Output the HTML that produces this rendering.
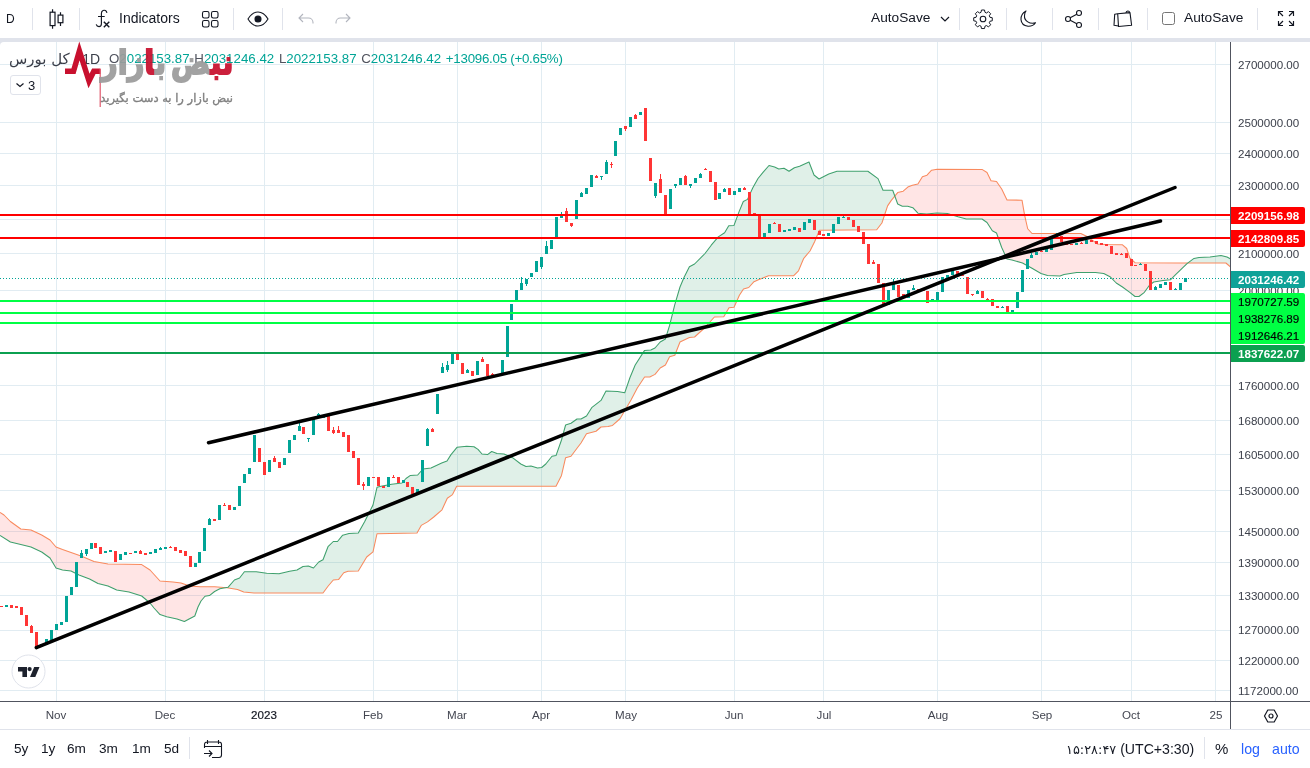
<!DOCTYPE html><html lang="fa"><head><meta charset="utf-8"><title>TradingView Chart</title><style>
*{margin:0;padding:0;box-sizing:border-box}
html,body{width:1310px;height:768px;overflow:hidden;background:#e0e3eb;font-family:"Liberation Sans","DejaVu Sans",sans-serif;color:#131722}
#top{position:absolute;left:0;top:0;width:1310px;height:38px;background:#fff}
#main{position:absolute;left:0;top:42px;width:1310px;height:726px;background:#fff;border-top-left-radius:4px}
.t{position:absolute;white-space:nowrap;line-height:1}
.t,.pl,.tl,.tag,.bb{will-change:transform}
.sep{position:absolute;top:8px;width:1px;height:22px;background:#e0e3eb}
.ic{position:absolute}
.pl{position:absolute;left:1238px;font-size:11.6px;line-height:14px;height:14px;color:#3c404b}
.tl{position:absolute;top:708px;font-size:11.6px;line-height:14px;color:#434651;transform:translateX(-50%)}
.tag{position:absolute;left:1231px;width:74px;height:17px;font-size:11.6px;font-weight:bold;line-height:17px;padding-left:7px;border-radius:0 2px 2px 0;color:#fff}
.bb{position:absolute;top:740.8px;font-size:13.6px;line-height:16px;color:#131722}
</style></head><body>
<div id="top"></div><div id="main"></div>
<svg id="chart" width="1310" height="768" viewBox="0 0 1310 768" style="position:absolute;left:0;top:0">
<defs><clipPath id="cp"><rect x="0" y="42" width="1230" height="659"/></clipPath></defs>
<g shape-rendering="crispEdges" stroke="#e1ecf2" stroke-width="1">
<line x1="56.5" y1="42" x2="56.5" y2="701"/>
<line x1="165.5" y1="42" x2="165.5" y2="701"/>
<line x1="264.5" y1="42" x2="264.5" y2="701"/>
<line x1="373.5" y1="42" x2="373.5" y2="701"/>
<line x1="457.5" y1="42" x2="457.5" y2="701"/>
<line x1="541.5" y1="42" x2="541.5" y2="701"/>
<line x1="625.5" y1="42" x2="625.5" y2="701"/>
<line x1="734.5" y1="42" x2="734.5" y2="701"/>
<line x1="823.5" y1="42" x2="823.5" y2="701"/>
<line x1="937.5" y1="42" x2="937.5" y2="701"/>
<line x1="1041.5" y1="42" x2="1041.5" y2="701"/>
<line x1="1131.5" y1="42" x2="1131.5" y2="701"/>
<line x1="1215.5" y1="42" x2="1215.5" y2="701"/>
<line x1="0" y1="64.5" x2="1230" y2="64.5"/>
<line x1="0" y1="122.5" x2="1230" y2="122.5"/>
<line x1="0" y1="153.5" x2="1230" y2="153.5"/>
<line x1="0" y1="185.5" x2="1230" y2="185.5"/>
<line x1="0" y1="219.5" x2="1230" y2="219.5"/>
<line x1="0" y1="253.5" x2="1230" y2="253.5"/>
<line x1="0" y1="290.5" x2="1230" y2="290.5"/>
<line x1="0" y1="385.5" x2="1230" y2="385.5"/>
<line x1="0" y1="420.5" x2="1230" y2="420.5"/>
<line x1="0" y1="454.5" x2="1230" y2="454.5"/>
<line x1="0" y1="490.5" x2="1230" y2="490.5"/>
<line x1="0" y1="531.5" x2="1230" y2="531.5"/>
<line x1="0" y1="562.5" x2="1230" y2="562.5"/>
<line x1="0" y1="595.5" x2="1230" y2="595.5"/>
<line x1="0" y1="630.5" x2="1230" y2="630.5"/>
<line x1="0" y1="660.5" x2="1230" y2="660.5"/>
<line x1="0" y1="690.5" x2="1230" y2="690.5"/>
</g>
<g clip-path="url(#cp)">
<clipPath id="ao"><polygon points="0,512.5 4,515 10.4,521.5 20.8,529 31,530 41.7,535 50,540 56,547 62.5,549.6 81,556 94,561.5 108,564 141.7,564.6 150,570 160,581 173,582 181,583 189.6,586 200,586.7 214.6,586.7 227,587.7 237.5,589.4 243.75,592 254,593 323,593 328,586.25 333.3,580 338.5,579.6 343.75,572.7 348,571.25 358.3,571 366.7,557 373,551.9 377,533.75 417,533 421.25,525.4 427.5,521.9 433.75,517 442,509.8 447.3,498.3 452.5,494.6 456.7,486.25 556,486.25 561.5,475.4 565.6,457.7 571,456.25 577,448.3 581,443 586.5,433.75 596,431.25 601,427 608,426.5 612.5,425.4 620,418.75 631,400 637.3,388 644.6,377 649.8,377 655,374.4 660.2,368 665.4,365 669.6,356.7 674.8,355.2 680,342 689.4,337.5 694.6,337 705,327.5 714.4,317 723.75,316.7 729,307.7 734,307.3 739.4,295.2 743.5,289 748.75,287.5 754,281.7 759,279.6 768.5,275.8 793.5,275.8 798.5,270.8 803.75,258.3 810,251 814.6,241.7 819.4,230.2 876.7,229.8 881.9,223 884.9,214 887.6,205.9 891.3,200.4 895,195.8 897.7,192.6 903.2,191.2 907.8,187.1 912.4,185.3 917.9,184.1 922.4,176.7 927,175.2 931.6,170.2 937.1,169.2 982,169.4 987,172.5 991,180.8 996.5,181.5 1001.7,189 1007,200 1022,200.2 1024.6,215.2 1027.7,228.75 1032,233.5 1080.8,233.5 1086,236 1092.3,240.2 1097.5,244 1105.8,244.4 1122.5,244.8 1126.7,248.5 1129.8,258 1135,262.7 1180,263 1225.9,263 1230.5,267 1231,0 0,0"/></clipPath>
<clipPath id="ag"><polygon points="0,535.4 10.4,542 20.8,544.6 31,547 41.7,552 50,558 56,568 62.5,570 71,571 79,575 89.6,579 98,583.5 108,586 116.7,590 129,592 141.7,596 150,603 154,608 160,614.6 166.7,616.7 177,619 184.4,621.5 194.8,616 198,607 201,601 205,596.25 209.4,595.6 214.6,591.5 219.8,588.75 228,587.3 234.4,580 239.6,578 244.4,571.7 256.25,571.7 266.7,573.3 279,573.75 289.6,571.25 297,570 303,566.5 308.3,566 313.5,568 318.75,562 323,559.8 328,546.7 333.3,541.5 337.5,541.5 342.7,535.2 349,533.5 358.3,533 364.6,521.7 373,505 377,487.3 381,486.25 391.7,484.2 402,483 406,478.5 410.4,475.4 417.7,475 423,469 431,468 441.7,463 447,461 451,454.6 457,447.3 466.7,446.25 474,446.7 478,449.4 482,454 487.5,454.6 491.7,451.5 497,453.5 504,454 512.5,457.7 520.8,464 526,466.5 531,466 537.5,468 541.7,467.5 545.8,464 552,456.25 556,455.6 561.5,440 565.6,425 571,423.3 577,419 581,419 586.5,416 591.7,407.7 601,400.4 606,391 617.5,391.5 624.8,392.7 630,377.5 635.2,365 644.6,350.4 650.8,350 655,348 660.2,342 665.4,339 669.6,325.4 674.8,304.6 680,287 684,277.5 689.4,266.7 694.6,264 705,253.5 711.25,245.2 718.3,236.9 724.6,232.7 728.75,225.8 734,225.4 739,211.9 743.3,201.5 747.5,199.4 752.7,188 758,178.5 763,172.3 769,165.5 774.6,167 778.75,169 784,168.3 789,171.25 794.4,167.7 799.6,166.25 809,162 814,175 819,179 828.75,174 837,171.25 867.9,171.25 878,178.6 883,190.3 892.7,190.3 897.7,204 902.3,206.3 907.8,206.3 912.8,207.7 917.9,213.2 926.7,214 937,213 947.5,213.5 958,216.7 966.25,219 982,219 987,222.5 992.3,230.8 996.5,233 1001.7,247.5 1007,259 1012,260 1022.5,263 1032,268.3 1041,273.5 1047.5,275.6 1060,276 1064,274.6 1076.7,272.5 1095.4,272.5 1103.75,273.5 1110,276.7 1116.25,283 1122.5,287 1129.8,292.3 1135,296.5 1139,296.5 1144.4,292.3 1149.6,285 1153.75,282 1163,280.4 1170.4,279.8 1175.6,274.6 1180,270.4 1187,263.7 1194,258.4 1199,257.4 1210,257 1221,255.5 1227,257 1230.5,259 1231,0 0,0"/></clipPath>
<polygon clip-path="url(#ao)" fill="#4aa775" fill-opacity=".17" points="0,535.4 10.4,542 20.8,544.6 31,547 41.7,552 50,558 56,568 62.5,570 71,571 79,575 89.6,579 98,583.5 108,586 116.7,590 129,592 141.7,596 150,603 154,608 160,614.6 166.7,616.7 177,619 184.4,621.5 194.8,616 198,607 201,601 205,596.25 209.4,595.6 214.6,591.5 219.8,588.75 228,587.3 234.4,580 239.6,578 244.4,571.7 256.25,571.7 266.7,573.3 279,573.75 289.6,571.25 297,570 303,566.5 308.3,566 313.5,568 318.75,562 323,559.8 328,546.7 333.3,541.5 337.5,541.5 342.7,535.2 349,533.5 358.3,533 364.6,521.7 373,505 377,487.3 381,486.25 391.7,484.2 402,483 406,478.5 410.4,475.4 417.7,475 423,469 431,468 441.7,463 447,461 451,454.6 457,447.3 466.7,446.25 474,446.7 478,449.4 482,454 487.5,454.6 491.7,451.5 497,453.5 504,454 512.5,457.7 520.8,464 526,466.5 531,466 537.5,468 541.7,467.5 545.8,464 552,456.25 556,455.6 561.5,440 565.6,425 571,423.3 577,419 581,419 586.5,416 591.7,407.7 601,400.4 606,391 617.5,391.5 624.8,392.7 630,377.5 635.2,365 644.6,350.4 650.8,350 655,348 660.2,342 665.4,339 669.6,325.4 674.8,304.6 680,287 684,277.5 689.4,266.7 694.6,264 705,253.5 711.25,245.2 718.3,236.9 724.6,232.7 728.75,225.8 734,225.4 739,211.9 743.3,201.5 747.5,199.4 752.7,188 758,178.5 763,172.3 769,165.5 774.6,167 778.75,169 784,168.3 789,171.25 794.4,167.7 799.6,166.25 809,162 814,175 819,179 828.75,174 837,171.25 867.9,171.25 878,178.6 883,190.3 892.7,190.3 897.7,204 902.3,206.3 907.8,206.3 912.8,207.7 917.9,213.2 926.7,214 937,213 947.5,213.5 958,216.7 966.25,219 982,219 987,222.5 992.3,230.8 996.5,233 1001.7,247.5 1007,259 1012,260 1022.5,263 1032,268.3 1041,273.5 1047.5,275.6 1060,276 1064,274.6 1076.7,272.5 1095.4,272.5 1103.75,273.5 1110,276.7 1116.25,283 1122.5,287 1129.8,292.3 1135,296.5 1139,296.5 1144.4,292.3 1149.6,285 1153.75,282 1163,280.4 1170.4,279.8 1175.6,274.6 1180,270.4 1187,263.7 1194,258.4 1199,257.4 1210,257 1221,255.5 1227,257 1230.5,259 1231,768 0,768"/>
<polygon clip-path="url(#ag)" fill="#ff5252" fill-opacity=".15" points="0,512.5 4,515 10.4,521.5 20.8,529 31,530 41.7,535 50,540 56,547 62.5,549.6 81,556 94,561.5 108,564 141.7,564.6 150,570 160,581 173,582 181,583 189.6,586 200,586.7 214.6,586.7 227,587.7 237.5,589.4 243.75,592 254,593 323,593 328,586.25 333.3,580 338.5,579.6 343.75,572.7 348,571.25 358.3,571 366.7,557 373,551.9 377,533.75 417,533 421.25,525.4 427.5,521.9 433.75,517 442,509.8 447.3,498.3 452.5,494.6 456.7,486.25 556,486.25 561.5,475.4 565.6,457.7 571,456.25 577,448.3 581,443 586.5,433.75 596,431.25 601,427 608,426.5 612.5,425.4 620,418.75 631,400 637.3,388 644.6,377 649.8,377 655,374.4 660.2,368 665.4,365 669.6,356.7 674.8,355.2 680,342 689.4,337.5 694.6,337 705,327.5 714.4,317 723.75,316.7 729,307.7 734,307.3 739.4,295.2 743.5,289 748.75,287.5 754,281.7 759,279.6 768.5,275.8 793.5,275.8 798.5,270.8 803.75,258.3 810,251 814.6,241.7 819.4,230.2 876.7,229.8 881.9,223 884.9,214 887.6,205.9 891.3,200.4 895,195.8 897.7,192.6 903.2,191.2 907.8,187.1 912.4,185.3 917.9,184.1 922.4,176.7 927,175.2 931.6,170.2 937.1,169.2 982,169.4 987,172.5 991,180.8 996.5,181.5 1001.7,189 1007,200 1022,200.2 1024.6,215.2 1027.7,228.75 1032,233.5 1080.8,233.5 1086,236 1092.3,240.2 1097.5,244 1105.8,244.4 1122.5,244.8 1126.7,248.5 1129.8,258 1135,262.7 1180,263 1225.9,263 1230.5,267 1231,768 0,768"/>
<polyline fill="none" stroke="#f98a5e" stroke-width="1.05" stroke-linejoin="round" points="0,512.5 4,515 10.4,521.5 20.8,529 31,530 41.7,535 50,540 56,547 62.5,549.6 81,556 94,561.5 108,564 141.7,564.6 150,570 160,581 173,582 181,583 189.6,586 200,586.7 214.6,586.7 227,587.7 237.5,589.4 243.75,592 254,593 323,593 328,586.25 333.3,580 338.5,579.6 343.75,572.7 348,571.25 358.3,571 366.7,557 373,551.9 377,533.75 417,533 421.25,525.4 427.5,521.9 433.75,517 442,509.8 447.3,498.3 452.5,494.6 456.7,486.25 556,486.25 561.5,475.4 565.6,457.7 571,456.25 577,448.3 581,443 586.5,433.75 596,431.25 601,427 608,426.5 612.5,425.4 620,418.75 631,400 637.3,388 644.6,377 649.8,377 655,374.4 660.2,368 665.4,365 669.6,356.7 674.8,355.2 680,342 689.4,337.5 694.6,337 705,327.5 714.4,317 723.75,316.7 729,307.7 734,307.3 739.4,295.2 743.5,289 748.75,287.5 754,281.7 759,279.6 768.5,275.8 793.5,275.8 798.5,270.8 803.75,258.3 810,251 814.6,241.7 819.4,230.2 876.7,229.8 881.9,223 884.9,214 887.6,205.9 891.3,200.4 895,195.8 897.7,192.6 903.2,191.2 907.8,187.1 912.4,185.3 917.9,184.1 922.4,176.7 927,175.2 931.6,170.2 937.1,169.2 982,169.4 987,172.5 991,180.8 996.5,181.5 1001.7,189 1007,200 1022,200.2 1024.6,215.2 1027.7,228.75 1032,233.5 1080.8,233.5 1086,236 1092.3,240.2 1097.5,244 1105.8,244.4 1122.5,244.8 1126.7,248.5 1129.8,258 1135,262.7 1180,263 1225.9,263 1230.5,267"/>
<polyline fill="none" stroke="#3fa06d" stroke-width="1.05" stroke-linejoin="round" points="0,535.4 10.4,542 20.8,544.6 31,547 41.7,552 50,558 56,568 62.5,570 71,571 79,575 89.6,579 98,583.5 108,586 116.7,590 129,592 141.7,596 150,603 154,608 160,614.6 166.7,616.7 177,619 184.4,621.5 194.8,616 198,607 201,601 205,596.25 209.4,595.6 214.6,591.5 219.8,588.75 228,587.3 234.4,580 239.6,578 244.4,571.7 256.25,571.7 266.7,573.3 279,573.75 289.6,571.25 297,570 303,566.5 308.3,566 313.5,568 318.75,562 323,559.8 328,546.7 333.3,541.5 337.5,541.5 342.7,535.2 349,533.5 358.3,533 364.6,521.7 373,505 377,487.3 381,486.25 391.7,484.2 402,483 406,478.5 410.4,475.4 417.7,475 423,469 431,468 441.7,463 447,461 451,454.6 457,447.3 466.7,446.25 474,446.7 478,449.4 482,454 487.5,454.6 491.7,451.5 497,453.5 504,454 512.5,457.7 520.8,464 526,466.5 531,466 537.5,468 541.7,467.5 545.8,464 552,456.25 556,455.6 561.5,440 565.6,425 571,423.3 577,419 581,419 586.5,416 591.7,407.7 601,400.4 606,391 617.5,391.5 624.8,392.7 630,377.5 635.2,365 644.6,350.4 650.8,350 655,348 660.2,342 665.4,339 669.6,325.4 674.8,304.6 680,287 684,277.5 689.4,266.7 694.6,264 705,253.5 711.25,245.2 718.3,236.9 724.6,232.7 728.75,225.8 734,225.4 739,211.9 743.3,201.5 747.5,199.4 752.7,188 758,178.5 763,172.3 769,165.5 774.6,167 778.75,169 784,168.3 789,171.25 794.4,167.7 799.6,166.25 809,162 814,175 819,179 828.75,174 837,171.25 867.9,171.25 878,178.6 883,190.3 892.7,190.3 897.7,204 902.3,206.3 907.8,206.3 912.8,207.7 917.9,213.2 926.7,214 937,213 947.5,213.5 958,216.7 966.25,219 982,219 987,222.5 992.3,230.8 996.5,233 1001.7,247.5 1007,259 1012,260 1022.5,263 1032,268.3 1041,273.5 1047.5,275.6 1060,276 1064,274.6 1076.7,272.5 1095.4,272.5 1103.75,273.5 1110,276.7 1116.25,283 1122.5,287 1129.8,292.3 1135,296.5 1139,296.5 1144.4,292.3 1149.6,285 1153.75,282 1163,280.4 1170.4,279.8 1175.6,274.6 1180,270.4 1187,263.7 1194,258.4 1199,257.4 1210,257 1221,255.5 1227,257 1230.5,259"/>
<g shape-rendering="crispEdges">
<rect x="0" y="606" width="3" height="1" fill="#ff3535"/>
<rect x="5" y="605" width="3" height="2" fill="#00a496"/>
<rect x="10" y="605" width="3" height="3" fill="#ff3535"/>
<rect x="15" y="606" width="3" height="2" fill="#ff3535"/>
<rect x="20" y="607" width="3" height="8" fill="#ff3535"/>
<rect x="25" y="615" width="3" height="11" fill="#ff3535"/>
<rect x="31" y="625" width="1" height="8" fill="#ff3535"/>
<rect x="30" y="626" width="3" height="7" fill="#ff3535"/>
<rect x="35" y="632" width="3" height="16" fill="#ff3535"/>
<rect x="40" y="644" width="3" height="1" fill="#00a496"/>
<rect x="45" y="639" width="3" height="6" fill="#00a496"/>
<rect x="50" y="630" width="3" height="10" fill="#00a496"/>
<rect x="55" y="624" width="3" height="6" fill="#00a496"/>
<rect x="60" y="622" width="3" height="3" fill="#00a496"/>
<rect x="65" y="596" width="3" height="26" fill="#00a496"/>
<rect x="70" y="587" width="3" height="8" fill="#00a496"/>
<rect x="75" y="562" width="3" height="25" fill="#00a496"/>
<rect x="81" y="550" width="1" height="8" fill="#00a496"/>
<rect x="80" y="553" width="3" height="5" fill="#00a496"/>
<rect x="86" y="549" width="1" height="7" fill="#00a496"/>
<rect x="85" y="549" width="3" height="5" fill="#00a496"/>
<rect x="90" y="543" width="3" height="6" fill="#00a496"/>
<rect x="94" y="543" width="3" height="5" fill="#ff3535"/>
<rect x="99" y="547" width="3" height="7" fill="#ff3535"/>
<rect x="104" y="551" width="3" height="2" fill="#00a496"/>
<rect x="109" y="550" width="3" height="2" fill="#00a496"/>
<rect x="114" y="551" width="3" height="11" fill="#ff3535"/>
<rect x="119" y="554" width="3" height="6" fill="#00a496"/>
<rect x="124" y="552" width="3" height="3" fill="#00a496"/>
<rect x="129" y="553" width="3" height="1" fill="#ff3535"/>
<rect x="134" y="551" width="3" height="2" fill="#00a496"/>
<rect x="140" y="550" width="1" height="4" fill="#ff3535"/>
<rect x="139" y="551" width="3" height="3" fill="#ff3535"/>
<rect x="144" y="553" width="3" height="2" fill="#ff3535"/>
<rect x="149" y="552" width="3" height="2" fill="#00a496"/>
<rect x="154" y="549" width="3" height="4" fill="#00a496"/>
<rect x="160" y="547" width="1" height="3" fill="#00a496"/>
<rect x="159" y="548" width="3" height="2" fill="#00a496"/>
<rect x="164" y="547" width="3" height="2" fill="#00a496"/>
<rect x="170" y="546" width="1" height="2" fill="#ff3535"/>
<rect x="169" y="547" width="3" height="1" fill="#ff3535"/>
<rect x="174" y="547" width="3" height="4" fill="#ff3535"/>
<rect x="179" y="550" width="3" height="3" fill="#ff3535"/>
<rect x="184" y="551" width="3" height="5" fill="#ff3535"/>
<rect x="189" y="556" width="3" height="11" fill="#ff3535"/>
<rect x="194" y="563" width="3" height="4" fill="#00a496"/>
<rect x="198" y="552" width="3" height="11" fill="#00a496"/>
<rect x="203" y="528" width="3" height="23" fill="#00a496"/>
<rect x="209" y="518" width="1" height="7" fill="#00a496"/>
<rect x="208" y="519" width="3" height="6" fill="#00a496"/>
<rect x="213" y="519" width="3" height="2" fill="#ff3535"/>
<rect x="218" y="505" width="3" height="15" fill="#00a496"/>
<rect x="224" y="503" width="1" height="3" fill="#ff3535"/>
<rect x="223" y="505" width="3" height="1" fill="#ff3535"/>
<rect x="228" y="505" width="3" height="5" fill="#ff3535"/>
<rect x="233" y="507" width="3" height="3" fill="#00a496"/>
<rect x="238" y="486" width="3" height="20" fill="#00a496"/>
<rect x="243" y="474" width="3" height="9" fill="#00a496"/>
<rect x="248" y="468" width="3" height="6" fill="#00a496"/>
<rect x="253" y="435" width="3" height="27" fill="#00a496"/>
<rect x="258" y="448" width="3" height="14" fill="#ff3535"/>
<rect x="263" y="462" width="3" height="13" fill="#ff3535"/>
<rect x="268" y="460" width="3" height="12" fill="#00a496"/>
<rect x="274" y="456" width="1" height="6" fill="#ff3535"/>
<rect x="273" y="458" width="3" height="4" fill="#ff3535"/>
<rect x="278" y="462" width="3" height="6" fill="#ff3535"/>
<rect x="283" y="458" width="3" height="7" fill="#00a496"/>
<rect x="288" y="440" width="3" height="13" fill="#00a496"/>
<rect x="293" y="435" width="3" height="5" fill="#00a496"/>
<rect x="299" y="422" width="1" height="9" fill="#00a496"/>
<rect x="298" y="426" width="3" height="5" fill="#00a496"/>
<rect x="302" y="427" width="3" height="7" fill="#ff3535"/>
<rect x="308" y="438" width="1" height="4" fill="#00a496"/>
<rect x="307" y="438" width="3" height="1" fill="#00a496"/>
<rect x="312" y="419" width="3" height="16" fill="#00a496"/>
<rect x="318" y="413" width="1" height="3" fill="#00a496"/>
<rect x="317" y="414" width="3" height="2" fill="#00a496"/>
<rect x="322" y="417" width="3" height="1" fill="#00a496"/>
<rect x="327" y="416" width="3" height="15" fill="#ff3535"/>
<rect x="333" y="427" width="1" height="7" fill="#ff3535"/>
<rect x="332" y="430" width="3" height="3" fill="#ff3535"/>
<rect x="338" y="426" width="1" height="7" fill="#ff3535"/>
<rect x="337" y="430" width="3" height="3" fill="#ff3535"/>
<rect x="342" y="432" width="3" height="5" fill="#ff3535"/>
<rect x="347" y="435" width="3" height="17" fill="#ff3535"/>
<rect x="352" y="451" width="3" height="7" fill="#ff3535"/>
<rect x="357" y="458" width="3" height="27" fill="#ff3535"/>
<rect x="363" y="482" width="1" height="8" fill="#ff3535"/>
<rect x="362" y="484" width="3" height="2" fill="#ff3535"/>
<rect x="367" y="477" width="3" height="9" fill="#00a496"/>
<rect x="372" y="477" width="3" height="1" fill="#ff3535"/>
<rect x="377" y="477" width="3" height="9" fill="#ff3535"/>
<rect x="382" y="486" width="3" height="2" fill="#ff3535"/>
<rect x="387" y="477" width="3" height="10" fill="#00a496"/>
<rect x="393" y="475" width="1" height="3" fill="#ff3535"/>
<rect x="392" y="477" width="3" height="1" fill="#ff3535"/>
<rect x="397" y="477" width="3" height="6" fill="#ff3535"/>
<rect x="402" y="480" width="3" height="3" fill="#00a496"/>
<rect x="406" y="482" width="3" height="5" fill="#ff3535"/>
<rect x="411" y="487" width="3" height="7" fill="#ff3535"/>
<rect x="416" y="489" width="3" height="4" fill="#00a496"/>
<rect x="421" y="460" width="3" height="22" fill="#00a496"/>
<rect x="427" y="428" width="1" height="18" fill="#00a496"/>
<rect x="426" y="429" width="3" height="17" fill="#00a496"/>
<rect x="432" y="428" width="1" height="4" fill="#ff3535"/>
<rect x="431" y="429" width="3" height="3" fill="#ff3535"/>
<rect x="436" y="394" width="3" height="20" fill="#00a496"/>
<rect x="442" y="363" width="1" height="10" fill="#00a496"/>
<rect x="441" y="367" width="3" height="6" fill="#00a496"/>
<rect x="447" y="361" width="1" height="11" fill="#00a496"/>
<rect x="446" y="365" width="3" height="5" fill="#00a496"/>
<rect x="451" y="354" width="3" height="10" fill="#00a496"/>
<rect x="456" y="354" width="3" height="6" fill="#ff3535"/>
<rect x="461" y="363" width="3" height="11" fill="#ff3535"/>
<rect x="467" y="369" width="1" height="4" fill="#00a496"/>
<rect x="466" y="370" width="3" height="3" fill="#00a496"/>
<rect x="471" y="371" width="3" height="5" fill="#ff3535"/>
<rect x="476" y="361" width="3" height="14" fill="#00a496"/>
<rect x="482" y="357" width="1" height="5" fill="#ff3535"/>
<rect x="481" y="359" width="3" height="3" fill="#ff3535"/>
<rect x="486" y="364" width="3" height="12" fill="#ff3535"/>
<rect x="492" y="373" width="1" height="2" fill="#ff3535"/>
<rect x="491" y="374" width="3" height="1" fill="#ff3535"/>
<rect x="496" y="374" width="3" height="1" fill="#00a496"/>
<rect x="501" y="360" width="3" height="13" fill="#00a496"/>
<rect x="506" y="326" width="3" height="31" fill="#00a496"/>
<rect x="510" y="304" width="3" height="16" fill="#00a496"/>
<rect x="515" y="290" width="3" height="10" fill="#00a496"/>
<rect x="521" y="277" width="1" height="13" fill="#00a496"/>
<rect x="520" y="283" width="3" height="7" fill="#00a496"/>
<rect x="526" y="279" width="1" height="7" fill="#00a496"/>
<rect x="525" y="279" width="3" height="5" fill="#00a496"/>
<rect x="530" y="273" width="3" height="4" fill="#00a496"/>
<rect x="535" y="261" width="3" height="11" fill="#00a496"/>
<rect x="541" y="257" width="1" height="12" fill="#00a496"/>
<rect x="540" y="257" width="3" height="10" fill="#00a496"/>
<rect x="546" y="241" width="1" height="13" fill="#00a496"/>
<rect x="545" y="246" width="3" height="8" fill="#00a496"/>
<rect x="550" y="240" width="3" height="9" fill="#00a496"/>
<rect x="555" y="217" width="3" height="20" fill="#00a496"/>
<rect x="561" y="212" width="1" height="6" fill="#00a496"/>
<rect x="560" y="215" width="3" height="3" fill="#00a496"/>
<rect x="566" y="208" width="1" height="14" fill="#ff3535"/>
<rect x="565" y="211" width="3" height="11" fill="#ff3535"/>
<rect x="571" y="223" width="1" height="4" fill="#ff3535"/>
<rect x="570" y="223" width="3" height="3" fill="#ff3535"/>
<rect x="575" y="200" width="3" height="19" fill="#00a496"/>
<rect x="581" y="192" width="1" height="5" fill="#00a496"/>
<rect x="580" y="193" width="3" height="4" fill="#00a496"/>
<rect x="585" y="188" width="3" height="6" fill="#00a496"/>
<rect x="590" y="175" width="3" height="12" fill="#00a496"/>
<rect x="596" y="175" width="1" height="3" fill="#ff3535"/>
<rect x="595" y="176" width="3" height="2" fill="#ff3535"/>
<rect x="601" y="176" width="1" height="4" fill="#00a496"/>
<rect x="600" y="176" width="3" height="1" fill="#00a496"/>
<rect x="606" y="160" width="1" height="14" fill="#00a496"/>
<rect x="605" y="162" width="3" height="12" fill="#00a496"/>
<rect x="611" y="162" width="1" height="6" fill="#ff3535"/>
<rect x="610" y="164" width="3" height="1" fill="#ff3535"/>
<rect x="614" y="141" width="3" height="15" fill="#00a496"/>
<rect x="619" y="128" width="3" height="7" fill="#00a496"/>
<rect x="625" y="126" width="1" height="5" fill="#ff3535"/>
<rect x="624" y="126" width="3" height="3" fill="#ff3535"/>
<rect x="629" y="117" width="3" height="10" fill="#00a496"/>
<rect x="635" y="114" width="1" height="5" fill="#ff3535"/>
<rect x="634" y="115" width="3" height="4" fill="#ff3535"/>
<rect x="639" y="112" width="3" height="3" fill="#00a496"/>
<rect x="644" y="108" width="3" height="33" fill="#ff3535"/>
<rect x="649" y="158" width="3" height="23" fill="#ff3535"/>
<rect x="655" y="183" width="1" height="15" fill="#00a496"/>
<rect x="654" y="183" width="3" height="13" fill="#00a496"/>
<rect x="660" y="174" width="1" height="19" fill="#ff3535"/>
<rect x="659" y="179" width="3" height="14" fill="#ff3535"/>
<rect x="664" y="195" width="3" height="20" fill="#ff3535"/>
<rect x="669" y="189" width="3" height="20" fill="#00a496"/>
<rect x="675" y="184" width="1" height="4" fill="#00a496"/>
<rect x="674" y="184" width="3" height="2" fill="#00a496"/>
<rect x="679" y="178" width="3" height="7" fill="#00a496"/>
<rect x="685" y="175" width="1" height="10" fill="#ff3535"/>
<rect x="684" y="176" width="3" height="9" fill="#ff3535"/>
<rect x="690" y="184" width="1" height="4" fill="#00a496"/>
<rect x="689" y="184" width="3" height="2" fill="#00a496"/>
<rect x="694" y="178" width="3" height="5" fill="#00a496"/>
<rect x="700" y="173" width="1" height="5" fill="#00a496"/>
<rect x="699" y="174" width="3" height="4" fill="#00a496"/>
<rect x="705" y="168" width="1" height="2" fill="#ff3535"/>
<rect x="704" y="169" width="3" height="1" fill="#ff3535"/>
<rect x="709" y="171" width="3" height="11" fill="#ff3535"/>
<rect x="714" y="182" width="3" height="18" fill="#ff3535"/>
<rect x="718" y="193" width="3" height="6" fill="#00a496"/>
<rect x="724" y="188" width="1" height="4" fill="#00a496"/>
<rect x="723" y="189" width="3" height="3" fill="#00a496"/>
<rect x="728" y="188" width="3" height="7" fill="#ff3535"/>
<rect x="733" y="191" width="3" height="4" fill="#00a496"/>
<rect x="738" y="188" width="3" height="4" fill="#00a496"/>
<rect x="744" y="187" width="1" height="3" fill="#ff3535"/>
<rect x="743" y="188" width="3" height="2" fill="#ff3535"/>
<rect x="748" y="192" width="3" height="23" fill="#ff3535"/>
<rect x="753" y="213" width="3" height="2" fill="#ff3535"/>
<rect x="758" y="216" width="3" height="21" fill="#ff3535"/>
<rect x="763" y="233" width="3" height="4" fill="#00a496"/>
<rect x="768" y="224" width="3" height="9" fill="#00a496"/>
<rect x="774" y="222" width="1" height="2" fill="#ff3535"/>
<rect x="773" y="223" width="3" height="1" fill="#ff3535"/>
<rect x="778" y="224" width="3" height="8" fill="#ff3535"/>
<rect x="784" y="230" width="1" height="2" fill="#00a496"/>
<rect x="783" y="230" width="3" height="2" fill="#00a496"/>
<rect x="788" y="229" width="3" height="2" fill="#00a496"/>
<rect x="793" y="227" width="3" height="3" fill="#00a496"/>
<rect x="798" y="228" width="3" height="4" fill="#ff3535"/>
<rect x="803" y="222" width="3" height="8" fill="#00a496"/>
<rect x="808" y="219" width="3" height="4" fill="#00a496"/>
<rect x="813" y="220" width="3" height="10" fill="#ff3535"/>
<rect x="818" y="231" width="3" height="4" fill="#ff3535"/>
<rect x="822" y="234" width="3" height="2" fill="#ff3535"/>
<rect x="827" y="233" width="3" height="3" fill="#00a496"/>
<rect x="832" y="224" width="3" height="9" fill="#00a496"/>
<rect x="837" y="217" width="3" height="7" fill="#00a496"/>
<rect x="843" y="216" width="1" height="2" fill="#00a496"/>
<rect x="842" y="217" width="3" height="1" fill="#00a496"/>
<rect x="847" y="217" width="3" height="3" fill="#ff3535"/>
<rect x="852" y="220" width="3" height="7" fill="#ff3535"/>
<rect x="857" y="226" width="3" height="6" fill="#ff3535"/>
<rect x="862" y="232" width="3" height="12" fill="#ff3535"/>
<rect x="867" y="244" width="3" height="20" fill="#ff3535"/>
<rect x="873" y="260" width="1" height="4" fill="#ff3535"/>
<rect x="872" y="262" width="3" height="2" fill="#ff3535"/>
<rect x="877" y="264" width="3" height="19" fill="#ff3535"/>
<rect x="882" y="283" width="3" height="21" fill="#ff3535"/>
<rect x="887" y="290" width="3" height="15" fill="#00a496"/>
<rect x="893" y="279" width="1" height="11" fill="#00a496"/>
<rect x="892" y="283" width="3" height="7" fill="#00a496"/>
<rect x="897" y="285" width="3" height="12" fill="#ff3535"/>
<rect x="902" y="294" width="3" height="3" fill="#ff3535"/>
<rect x="907" y="290" width="3" height="8" fill="#00a496"/>
<rect x="913" y="285" width="1" height="5" fill="#00a496"/>
<rect x="912" y="288" width="3" height="2" fill="#00a496"/>
<rect x="917" y="289" width="3" height="1" fill="#ff3535"/>
<rect x="922" y="290" width="3" height="1" fill="#ff3535"/>
<rect x="926" y="291" width="3" height="12" fill="#ff3535"/>
<rect x="931" y="299" width="3" height="1" fill="#00a496"/>
<rect x="936" y="292" width="3" height="8" fill="#00a496"/>
<rect x="941" y="277" width="3" height="15" fill="#00a496"/>
<rect x="946" y="275" width="3" height="3" fill="#00a496"/>
<rect x="951" y="271" width="3" height="4" fill="#00a496"/>
<rect x="956" y="271" width="3" height="3" fill="#ff3535"/>
<rect x="961" y="275" width="3" height="1" fill="#ff3535"/>
<rect x="966" y="277" width="3" height="17" fill="#ff3535"/>
<rect x="972" y="294" width="1" height="2" fill="#ff3535"/>
<rect x="971" y="294" width="3" height="1" fill="#ff3535"/>
<rect x="977" y="290" width="1" height="4" fill="#00a496"/>
<rect x="976" y="291" width="3" height="3" fill="#00a496"/>
<rect x="981" y="291" width="3" height="7" fill="#ff3535"/>
<rect x="987" y="298" width="1" height="2" fill="#ff3535"/>
<rect x="986" y="299" width="3" height="1" fill="#ff3535"/>
<rect x="991" y="299" width="3" height="7" fill="#ff3535"/>
<rect x="996" y="306" width="3" height="2" fill="#ff3535"/>
<rect x="1002" y="306" width="1" height="2" fill="#00a496"/>
<rect x="1001" y="307" width="3" height="1" fill="#00a496"/>
<rect x="1006" y="306" width="3" height="6" fill="#ff3535"/>
<rect x="1011" y="310" width="3" height="2" fill="#00a496"/>
<rect x="1016" y="292" width="3" height="16" fill="#00a496"/>
<rect x="1021" y="270" width="3" height="22" fill="#00a496"/>
<rect x="1026" y="259" width="3" height="10" fill="#00a496"/>
<rect x="1031" y="253" width="1" height="5" fill="#00a496"/>
<rect x="1030" y="255" width="3" height="3" fill="#00a496"/>
<rect x="1035" y="252" width="3" height="3" fill="#00a496"/>
<rect x="1041" y="250" width="1" height="2" fill="#ff3535"/>
<rect x="1040" y="251" width="3" height="1" fill="#ff3535"/>
<rect x="1045" y="249" width="3" height="3" fill="#00a496"/>
<rect x="1050" y="239" width="3" height="11" fill="#00a496"/>
<rect x="1056" y="233" width="1" height="6" fill="#00a496"/>
<rect x="1055" y="236" width="3" height="3" fill="#00a496"/>
<rect x="1060" y="236" width="3" height="6" fill="#ff3535"/>
<rect x="1065" y="244" width="3" height="1" fill="#ff3535"/>
<rect x="1070" y="244" width="3" height="1" fill="#ff3535"/>
<rect x="1075" y="243" width="3" height="2" fill="#00a496"/>
<rect x="1081" y="242" width="1" height="2" fill="#ff3535"/>
<rect x="1080" y="243" width="3" height="1" fill="#ff3535"/>
<rect x="1085" y="240" width="3" height="4" fill="#00a496"/>
<rect x="1090" y="240" width="3" height="2" fill="#ff3535"/>
<rect x="1095" y="241" width="3" height="3" fill="#ff3535"/>
<rect x="1100" y="243" width="3" height="2" fill="#ff3535"/>
<rect x="1105" y="244" width="3" height="2" fill="#ff3535"/>
<rect x="1110" y="246" width="3" height="8" fill="#ff3535"/>
<rect x="1115" y="253" width="3" height="2" fill="#ff3535"/>
<rect x="1121" y="253" width="1" height="2" fill="#ff3535"/>
<rect x="1120" y="254" width="3" height="1" fill="#ff3535"/>
<rect x="1125" y="253" width="3" height="5" fill="#ff3535"/>
<rect x="1130" y="259" width="3" height="7" fill="#ff3535"/>
<rect x="1134" y="265" width="3" height="1" fill="#ff3535"/>
<rect x="1140" y="263" width="1" height="2" fill="#00a496"/>
<rect x="1139" y="264" width="3" height="1" fill="#00a496"/>
<rect x="1144" y="264" width="3" height="7" fill="#ff3535"/>
<rect x="1149" y="271" width="3" height="19" fill="#ff3535"/>
<rect x="1155" y="286" width="1" height="4" fill="#00a496"/>
<rect x="1154" y="287" width="3" height="3" fill="#00a496"/>
<rect x="1159" y="284" width="3" height="4" fill="#00a496"/>
<rect x="1164" y="282" width="3" height="3" fill="#00a496"/>
<rect x="1169" y="282" width="3" height="8" fill="#ff3535"/>
<rect x="1175" y="288" width="1" height="2" fill="#00a496"/>
<rect x="1174" y="289" width="3" height="1" fill="#00a496"/>
<rect x="1179" y="283" width="3" height="7" fill="#00a496"/>
<rect x="1184" y="278" width="3" height="4" fill="#00a496"/>
</g>
<line x1="0" y1="278.5" x2="1230" y2="278.5" stroke="#00a496" stroke-width="1" stroke-dasharray="1 2" shape-rendering="crispEdges"/>
<g shape-rendering="crispEdges">
<rect x="0" y="214" width="1230" height="2" fill="#ff0000"/>
<rect x="0" y="237" width="1230" height="2" fill="#ff0000"/>
<rect x="0" y="300" width="1230" height="2" fill="#00ff44"/>
<rect x="0" y="312" width="1230" height="2" fill="#00ff44"/>
<rect x="0" y="322" width="1230" height="2" fill="#00ff44"/>
<rect x="0" y="352" width="1230" height="2" fill="#0ba050"/>
</g>
<line x1="36.3" y1="647.7" x2="1175" y2="187.5" stroke="#000" stroke-width="3.5" stroke-linecap="round"/>
<line x1="208.5" y1="442.7" x2="1160.5" y2="221" stroke="#000" stroke-width="3.5" stroke-linecap="round"/>
</g>
<g shape-rendering="crispEdges"><rect x="1230" y="42" width="1" height="688" fill="#50535e"/><rect x="0" y="701" width="1310" height="1" fill="#50535e"/><rect x="0" y="729" width="1310" height="1" fill="#e0e3eb"/></g>
<circle cx="28.5" cy="671.5" r="16.5" fill="#fff" stroke="#e0e3eb" stroke-width="1"/>
<g fill="#1e222d"><path d="M18 667h9v10h-4.6v-5.6H18z"/><circle cx="29.6" cy="669.1" r="2.1"/><path d="M34.2 667h5.3l-4.2 10h-5.3z"/></g>
</svg>
<div class="t" style="left:5.500px;top:12.500px;font-size:12px">D</div>
<div class="sep" style="left:32px"></div>
<div class="sep" style="left:79px"></div>
<div class="sep" style="left:233px"></div>
<div class="sep" style="left:282px"></div>
<div class="sep" style="left:959px"></div>
<div class="sep" style="left:1006px"></div>
<div class="sep" style="left:1052px"></div>
<div class="sep" style="left:1098px"></div>
<div class="sep" style="left:1147px"></div>
<div class="sep" style="left:1257px"></div>
<svg class="ic" style="left:44px;top:5px" width="28" height="28" viewBox="0 0 28 28" fill="none" stroke="#131722" stroke-width="1.2"><path d="M8.550 4.200v3M8.550 20.600v3.100M16.500 7.200v2.900M16.500 17.700v3.300"/><rect x="6.100" y="7.200" width="4.900" height="13.400"/><rect x="14.100" y="10.100" width="4.800" height="7.600"/></svg>
<svg class="ic" style="left:90px;top:5px" width="28" height="28" viewBox="0 0 28 28" fill="none" stroke="#131722" stroke-width="1.15"><path d="M16.900 7.800C16.500 5.500 14.500 4.800 13 5.600c-1.200.600-1.600 1.700-1.600 2.900v10.300c0 1.700-.800 2.800-2.400 2.800-1.400 0-2.400-.800-2.800-2.200M8 11.500h6.700"/><path d="M13.800 16.700l5.500 5.500M19.300 16.700l-5.500 5.500" stroke-width="1.4"/></svg>
<div class="t" style="left:119px;top:11px;font-size:14px">Indicators</div>
<svg class="ic" style="left:196px;top:5px" width="28" height="28" viewBox="0 0 28 28" fill="none" stroke="#131722" stroke-width="1.1"><rect x="6.500" y="6.500" width="6.500" height="6.500" rx="1.700"/><rect x="15.500" y="6.500" width="6.500" height="6.500" rx="1.700"/><rect x="6.500" y="15.500" width="6.500" height="6.500" rx="1.700"/><rect x="15.500" y="15.500" width="6.500" height="6.500" rx="1.700"/></svg>
<svg class="ic" style="left:244px;top:5px" width="28" height="28" viewBox="0 0 28 28" fill="none" stroke="#131722" stroke-width="1.1"><path d="M4 14c3-5 6.3-7 10-7s7 2 10 7c-3 5-6.3 7-10 7s-7-2-10-7z"/><circle cx="14" cy="14" r="3" fill="#131722"/></svg>
<svg class="ic" style="left:292px;top:5px" width="28" height="28" viewBox="0 0 28 28" fill="none" stroke="#b2b5be" stroke-width="1.1"><path d="M11 9l-4 4 4 4M7 13h9.5a4.5 4.5 0 0 1 4.500 4.500v1"/></svg>
<svg class="ic" style="left:329px;top:5px" width="28" height="28" viewBox="0 0 28 28" fill="none" stroke="#b2b5be" stroke-width="1.1"><path d="M17 9l4 4-4 4M21 13h-9.500a4.500 4.500 0 0 0-4.500 4.500v1"/></svg>
<div class="t" style="left:870.5px;top:11px;font-size:13.7px">AutoSave</div>
<svg class="ic" style="left:938px;top:12px" width="14" height="14" viewBox="0 0 14 14" fill="none" stroke="#131722" stroke-width="1.2"><path d="M3 5l4 4 4-4"/></svg>
<svg class="ic" style="left:969px;top:5px" width="28" height="28" viewBox="0 0 28 28" fill="none" stroke="#131722" stroke-width="1.1"><path d="M12.300 4.500h3.400l.5 2.600 1.700.7 2.200-1.500 2.400 2.400-1.500 2.200.7 1.700 2.600.5v3.400l-2.600.5-.7 1.700 1.500 2.200-2.400 2.400-2.200-1.500-1.700.7-.5 2.600h-3.400l-.5-2.600-1.700-.7-2.200 1.500-2.400-2.400 1.500-2.200-.7-1.700-2.600-.5v-3.400l2.600-.5.7-1.700-1.500-2.200 2.400-2.400 2.200 1.500 1.700-.7z" transform="translate(14 14) scale(.9) translate(-14 -14.500)" stroke-linejoin="round"/><circle cx="14" cy="14" r="2.800"/></svg>
<svg class="ic" style="left:1014px;top:5px" width="28" height="28" viewBox="0 0 28 28" fill="none" stroke="#131722" stroke-width="1.1"><path d="M12 6C5 10 5 20 14 21.300c3.500.200 6-1.300 7.500-3.500C16 19.500 10 16 10.500 10.500 10.600 8.500 11.200 7 12 6z" stroke-linejoin="round"/></svg>
<svg class="ic" style="left:1060px;top:5px" width="28" height="28" viewBox="0 0 28 28" fill="none" stroke="#131722" stroke-width="1.1"><circle cx="8" cy="14" r="2.500"/><circle cx="19" cy="8" r="2.500"/><circle cx="19" cy="20" r="2.500"/><path d="M10.200 12.800l6.600-3.600M10.200 15.200l6.600 3.600"/></svg>
<svg class="ic" style="left:1109px;top:5px" width="28" height="28" viewBox="0 0 28 28" fill="none" stroke="#131722" stroke-width="1.1" stroke-linejoin="round"><path d="M8.700 8.800L21 7.600l1.600 12.600-13.100 1.300z"/><path d="M8.700 8.800l-3 .500-.700 10.900 4.500.800M17 8c0-2.600 3.600-2.600 3.600-.300"/></svg>
<div style="position:absolute;left:1162px;top:12px;width:13px;height:13px;border:1px solid #767676;border-radius:2.5px;background:#fff"></div>
<div class="t" style="left:1184px;top:11px;font-size:13.7px">AutoSave</div>
<svg class="ic" style="left:1272px;top:5px" width="28" height="28" viewBox="0 0 28 28" fill="none" stroke="#131722" stroke-width="1.150"><path d="M6.500 11V6.500H11M6.500 6.500l4.500 4.500M17 6.500h4.500V11M21.500 6.500L17 11M6.500 16v4.500H11M6.500 20.500L11 16M21.500 16v4.500H17M21.500 20.500L17 16"/></svg>
<div class="t" style="left:9px;top:50px;font-size:16px;line-height:18px;color:#3a3e49;direction:ltr"><span dir="rtl" style="font-family:&quot;DejaVu Sans&quot;,sans-serif;font-size:15px">کل بورس</span><span style="font-size:14px"> · 1D</span></div>
<div class="t" style="left:109px;top:51px;font-size:13.3px;line-height:15px;word-spacing:1px;color:#50535e">O<span style="color:#00a496">2022153.87</span> H<span style="color:#00a496">2031246.42</span> L<span style="color:#00a496">2022153.87</span> C<span style="color:#00a496">2031246.42</span> <span style="color:#00a496;letter-spacing:-.25px;word-spacing:0">+13096.05 (+0.65%)</span></div>
<div style="position:absolute;left:10px;top:75px;width:31px;height:20px;border:1px solid #e0e3eb;border-radius:3px;background:#fff"></div>
<svg class="ic" style="left:14px;top:79px" width="12" height="12" viewBox="0 0 12 12" fill="none" stroke="#131722" stroke-width="1.200"><path d="M2.500 4.500l3.500 3 3.500-3"/></svg>
<div class="t" style="left:28px;top:79px;font-size:13px">3</div>
<svg class="ic" style="left:60px;top:40px" width="180" height="72" viewBox="60 40 180 72"><polyline fill="none" stroke="#c8102e" stroke-width="5.5" stroke-linejoin="miter" stroke-miterlimit="12" points="65,71.200 73.500,71.200 79.400,51 89,81 93.800,71.200 100.500,71.200"/><rect x="99.600" y="69" width="1.200" height="38" fill="#e0576b"/></svg>
<div id="wm" class="t" dir="rtl" style="right:1077px;top:43.2px;font-size:29px;font-weight:bold;color:#9b9b9b;-webkit-text-stroke-width:1.6px;line-height:34px;opacity:.93;transform:scale(1,1.13);transform-origin:100% 0;font-family:&quot;DejaVu Sans&quot;,sans-serif"><span style="color:#c8102e">نب</span>ض<span style="font-size:14px"> </span>ب<span style="color:#c8102e">ا</span>زار</div>
<div class="t" dir="rtl" style="left:100px;top:90px;width:133px;font-size:11.500px;color:#808080;-webkit-text-stroke:.35px #808080;text-align:right;line-height:16px;font-family:&quot;DejaVu Sans&quot;,sans-serif">نبض بازار را به دست بگیرید</div>
<div class="pl" style="top:57.5px">2700000.00</div>
<div class="pl" style="top:115.5px">2500000.00</div>
<div class="pl" style="top:146.5px">2400000.00</div>
<div class="pl" style="top:178.5px">2300000.00</div>
<div class="pl" style="top:246.5px">2100000.00</div>
<div class="pl" style="top:283.5px">2000000.00</div>
<div class="pl" style="top:378.5px">1760000.00</div>
<div class="pl" style="top:413.5px">1680000.00</div>
<div class="pl" style="top:447.5px">1605000.00</div>
<div class="pl" style="top:483.5px">1530000.00</div>
<div class="pl" style="top:524.5px">1450000.00</div>
<div class="pl" style="top:555.5px">1390000.00</div>
<div class="pl" style="top:588.5px">1330000.00</div>
<div class="pl" style="top:622.5px">1270000.00</div>
<div class="pl" style="top:653.5px">1220000.00</div>
<div class="pl" style="top:683.5px">1172000.00</div>
<div class="tag" style="top:207px;background:#ff0000;color:#fff">2209156.98</div>
<div class="tag" style="top:230px;background:#ff0000;color:#fff">2142809.85</div>
<div class="tag" style="top:271px;background:#0fa298;color:#fff">2031246.42</div>
<div class="tag" style="top:293px;height:51px;background:#00ff44"></div>
<div class="tag" style="top:293px;background:transparent;color:#000;font-weight:normal;-webkit-text-stroke:.15px #000">1970727.59</div>
<div class="tag" style="top:310px;background:transparent;color:#000;font-weight:normal;-webkit-text-stroke:.15px #000">1938276.89</div>
<div class="tag" style="top:327px;background:transparent;color:#000;font-weight:normal;-webkit-text-stroke:.15px #000">1912646.21</div>
<div class="tag" style="top:345px;background:#0ba050">1837622.07</div>
<div class="tl" style="left:56px">Nov</div>
<div class="tl" style="left:165px">Dec</div>
<div class="tl" style="left:264px;color:#131722;-webkit-text-stroke:.18px #131722">2023</div>
<div class="tl" style="left:373px">Feb</div>
<div class="tl" style="left:457px">Mar</div>
<div class="tl" style="left:541px">Apr</div>
<div class="tl" style="left:626px">May</div>
<div class="tl" style="left:734px">Jun</div>
<div class="tl" style="left:823.5px">Jul</div>
<div class="tl" style="left:937.5px">Aug</div>
<div class="tl" style="left:1042px">Sep</div>
<div class="tl" style="left:1130.5px">Oct</div>
<div class="tl" style="left:1215.5px">25</div>
<svg class="ic" style="left:1261px;top:706px" width="20" height="20" viewBox="0 0 20 20" fill="none" stroke="#131722" stroke-width="1.200"><path d="M6.800 4h6.400l3.300 6-3.300 6H6.800L3.500 10z" stroke-linejoin="round"/><circle cx="10" cy="10" r="2"/></svg>
<div class="bb" style="left:14px">5y</div>
<div class="bb" style="left:41px">1y</div>
<div class="bb" style="left:67px">6m</div>
<div class="bb" style="left:99px">3m</div>
<div class="bb" style="left:132px">1m</div>
<div class="bb" style="left:164px">5d</div>
<div style="position:absolute;left:189px;top:737px;width:1px;height:22px;background:#e0e3eb"></div>
<svg class="ic" style="left:198.5px;top:734.6px" width="28" height="28" viewBox="0 0 28 28" fill="none" stroke="#131722" stroke-width="1.100"><path d="M8.500 5v4M19.500 5v4M5.500 11.500h17M13 22.500h7a2.500 2.500 0 0 0 2.500-2.500V9.500A2.500 2.500 0 0 0 20 7H8a2.500 2.500 0 0 0-2.500 2.500v3.500M5 18.500h7.500M10 15.500l3 3-3 3"/></svg>
<div class="bb" dir="ltr" style="left:1066px;font-size:14.1px"><span style="font-family:&quot;DejaVu Sans&quot;,sans-serif;font-size:12.900px">۱۵:۲۸:۴۷</span> (UTC+3:30)</div>
<div style="position:absolute;left:1204px;top:737px;width:1px;height:22px;background:#e0e3eb"></div>
<div class="bb" style="left:1215px;font-size:15px">%</div>
<div class="bb" style="left:1241px;font-size:14.2px;color:#2962ff">log</div>
<div class="bb" style="left:1272.3px;font-size:14.2px;color:#2962ff">auto</div>
</body></html>
